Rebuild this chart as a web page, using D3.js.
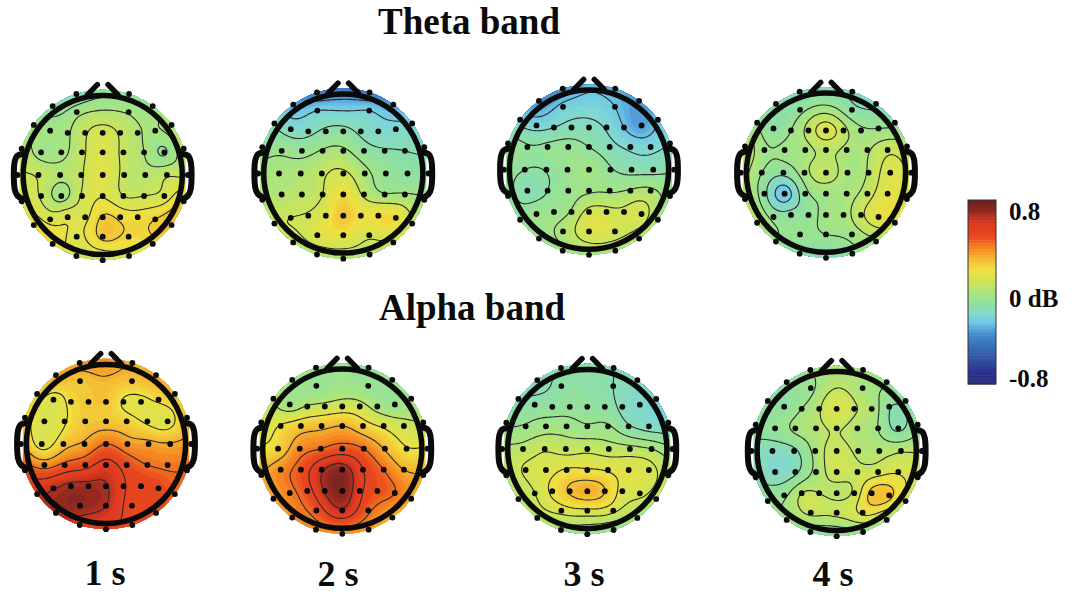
<!DOCTYPE html>
<html>
<head>
<meta charset="utf-8">
<script src="https://cdn.jsdelivr.net/npm/d3@7"></script>
<style>
  html, body { margin: 0; background: white; }
  svg { display: block; }
  text { font-family: "Liberation Serif", serif; font-weight: bold; fill: #0a0a0a; }
</style>
</head>
<body>
<svg id="chart" width="1075" height="594"></svg>
<script>
// electrode cap, head radius = 1. Outer ring every 18 degrees clockwise from the nose
const RING_ANGLES = d3.range(0, 360, 18)
const RING_RADIUS = 1.07
const ROW_Y = [-0.79, -0.53, -0.285, 0, 0.264, 0.53, 0.775]
const ROW_X = [
    [-0.326, 0.326],
    [-0.66, -0.44, -0.22, 0, 0.22, 0.44, 0.66],
    [-0.774, -0.52, -0.26, 0, 0.26, 0.52, 0.774],
    [-0.807, -0.535, -0.27, 0, 0.27, 0.535, 0.807],
    [-0.774, -0.52, -0.26, 0, 0.26, 0.52, 0.774],
    [-0.66, -0.44, -0.22, 0, 0.22, 0.44, 0.66],
    [-0.326, 0, 0.326]
]

// dB per electrode: 20 ring values, then the rows front to back
const theta1s = [
    -.06, -.05, 0, .1, .12, .13, .32, .36, .28, .2, .15, .17, .27, .28, .2, .15, .1, .03, -.08, -.1,
    .03, .05,
    .03, .05, .13, .17, .13, .07, .05,
    .03, .04, .12, .2, .12, .06, -.03,
    .13, .08, .13, .205, .12, .09, .13,
    .13, .03, .15, .215, .14, .14, .17,
    .19, .20, .2, .31, .28, .26, .3,
    .2, .32, .28
]
const theta2s = [
    -.42, -.42, -.32, -.2, -.12, -.05, .03, .12, .12, .1, .08, .08, .1, .13, .08, .04, -.02, -.12, -.3, -.42,
    -.21, -.21,
    -.15, -.13, -.08, -.07, -.12, -.16, -.17,
    0, -.02, .03, .04, -.05, -.09, -.1,
    .06, .07, .12, .16, .05, -.02, -.07,
    .08, .1, .14, .27, .12, .03, .03,
    .14, .15, .22, .33, .25, .27, .27,
    .2, .24, .16
]
const theta3s = [
    -.28, -.3, -.33, -.25, -.15, -.07, 0, .05, .08, .07, .04, .02, 0, -.03, -.03, -.02, -.02, -.2, -.35, -.35,
    -.22, -.25,
    -.19, -.15, -.12, -.12, -.16, -.25, -.33,
    -.05, -.04, -.02, -.06, -.12, -.17, -.18,
    -.06, -.055, -.01, .03, -.05, -.09, -.09,
    -.11, -.06, 0, .03, .03, .05, .06,
    0, 0, .05, .16, .16, .15, .17,
    .07, .2, .17
]
const theta4s = [
    -.12, -.12, -.12, -.03, .1, .14, .2, .18, .06, -.03, -.12, -.07, 0, .1, .12, .12, .14, 0, -.1, -.12,
    -.03, -.07,
    -.07, 0, .11, .2, .11, .02, 0,
    .02, .02, .05, .1, .06, .07, .14,
    0, -.07, .05, .12, .05, .09, .2,
    -.07, -.25, -.03, .03, .05, .12, .22,
    -.03, -.06, -.04, .03, .05, .14, .22,
    -.02, 0, .03
]
const alpha1s = [
    .45, .38, .4, .35, .36, .42, .5, .52, .58, .6, .62, .68, .78, .72, .58, .42, .3, .32, .4, .42,
    .33, .33,
    .2, .28, .32, .33, .24, .22, .27,
    .18, .24, .32, .33, .3, .23, .2,
    .2, .33, .4, .5, .43, .41, .39,
    .45, .53, .58, .66, .57, .5, .48,
    .73, .77, .77, .75, .63, .6, .58,
    .8, .74, .58
]
const alpha2s = [
    0, -.02, .02, .03, .1, .25, .38, .4, .38, .42, .42, .45, .45, .4, .38, .25, .15, .1, .05, .02,
    -.02, -.02,
    .03, .11, .14, .17, .15, .05, 0,
    .25, .32, .35, .38, .3, .22, .15,
    .3, .45, .5, .55, .5, .37, .25,
    .45, .55, .72, .8, .62, .5, .38,
    .47, .57, .75, .83, .65, .55, .5,
    .55, .72, .52
]
const alpha3s = [
    -.08, -.1, -.15, -.18, -.17, 0, .1, .1, .05, 0, 0, .04, .1, .08, .1, .08, -.03, -.1, -.15, -.08,
    -.07, -.1,
    -.06, -.05, -.04, -.05, -.06, -.12, -.16,
    0, .03, .03, 0, 0, -.09, -.14,
    .1, .14, .12, .13, .11, .1, .07,
    .16, .19, .24, .24, .22, .2, .18,
    .15, .25, .34, .38, .33, .2, .17,
    .18, .21, .17
]
const alpha4s = [
    .06, .06, .03, -.05, 0, .1, .15, .15, .06, 0, -.08, -.05, 0, 0, -.1, -.1, -.05, -.03, -.04, .02,
    0, .05,
    -.06, .02, .1, .2, .12, .08, -.07,
    -.03, .04, .08, .12, .07, .02, -.1,
    -.13, -.1, .05, .15, .09, .08, .1,
    -.15, -.1, .05, .15, .13, .16, .19,
    0, .11, .11, .09, .13, .33, .33,
    .13, .13, .22
]

const contourLevels = [
    [-.02, .06, .14, .22, .30],
    [-.32, -.21, -.1, .02, .14],
    [-.25, -.15, -.06, .04, .13],
    [-.2, -.1, 0, .08, .16],
    [.25, .38, .5, .62, .74],
    [.1, .24, .38, .5, .62, .74],
    [-.1, -.01, .07, .15, .23, .33],
    [-.08, .02, .11, .2, .3]
]
const panelValues = [theta1s, theta2s, theta3s, theta4s, alpha1s, alpha2s, alpha3s, alpha4s]

const titles = ["Theta band", "Alpha band"]
const timeLabels = ["1 s", "2 s", "3 s", "4 s"]
const colorbarTicks = [0.8, 0, -0.8]
const colorbarTickLabels = ["0.8", "0 dB", "-0.8"]

const STOP_VALUES = [-.88, -.75, -.62, -.48, -.35, -.25, -.17, -.06, .05, .14, .26, .38, .47, .56, .68, .8, .9]
const STOP_COLORS = ["#2a2a6e", "#2a3090", "#3050a0", "#3870b8", "#4890d0", "#70c8e8", "#80d8d0", "#90e0a0", "#a8e480",
    "#cce458", "#f0e040", "#f5b030", "#f58020", "#e8481f", "#e03a20", "#8f2820", "#6b1f1f"]

const HEAD_R = 79.6
const GRID_N = 90
// x, y of the head centres, reference layout
const PANEL_CENTERS = [[102.7, 175], [343.3, 173.5], [589, 169.7], [826, 172.7], [106, 444], [342.3, 448.7], [587.3, 449], [836.7, 451]]

const svg = d3.select("#chart")
const color = d3.scaleLinear().domain(STOP_VALUES).range(STOP_COLORS).clamp(true)
const headScale = d3.scaleLinear().domain([0, 1]).range([0, HEAD_R])
const gridScale = d3.scaleLinear().domain([0, GRID_N - 1]).range([-1.12, 1.12])

// electrode positions in head units
const electrodes = []
RING_ANGLES.forEach(a => {
    const t = a * Math.PI / 180
    electrodes.push({x: RING_RADIUS * Math.sin(t), y: -RING_RADIUS * Math.cos(t), hidden: a === 0})
})
ROW_X.forEach((row, i) => row.forEach(x => electrodes.push({x: x, y: ROW_Y[i] * (Math.abs(x) > 0.6 && (i === 1 || i === 5) ? 1.05 : 1)})))

// multiquadric kernel, stiff biharmonic one overshot badly at the rim
function kernel(r) {
    return Math.sqrt(r * r + 0.0225)
}

function solve(A, b) {
    const n = b.length
    const M = A.map((row, i) => [...row, b[i]])
    for(let c = 0; c < n; c++) {
        let p = c
        for(let r = c + 1; r < n; r++) if(Math.abs(M[r][c]) > Math.abs(M[p][c])) p = r
        ;[M[c], M[p]] = [M[p], M[c]]
        for(let r = c + 1; r < n; r++) {
            const f = M[r][c] / M[c][c]
            for(let k = c; k <= n; k++) M[r][k] -= f * M[c][k]
        }
    }
    const out = new Array(n)
    for(let r = n - 1; r >= 0; r--) {
        let s = M[r][n]
        for(let k = r + 1; k < n; k++) s -= M[r][k] * out[k]
        out[r] = s / M[r][r]
    }
    return out
}

// smooth surface through the electrode values, with a constant term
function surface(values) {
    const n = electrodes.length
    const A = electrodes.map(a => [...electrodes.map(b => kernel(Math.hypot(a.x - b.x, a.y - b.y))), 1])
    A.push([...electrodes.map(() => 1), 0])
    const w = solve(A, [...values, 0])
    const grid = new Float64Array(GRID_N * GRID_N)
    for(let j = 0; j < GRID_N; j++) {
        for(let i = 0; i < GRID_N; i++) {
            const x = gridScale(i), y = gridScale(j)
            grid[j * GRID_N + i] = w[n] + d3.sum(electrodes, (e, k) => w[k] * kernel(Math.hypot(x - e.x, y - e.y)))
        }
    }
    return grid
}

const gridPath = d3.geoPath(d3.geoTransform({
    point(x, y) {
        this.stream.point(headScale(gridScale(x - 0.5)), headScale(gridScale(y - 0.5)))
    }
}))

const defs = svg.append("defs")
defs.append("clipPath").attr("id", "discClip").append("circle").attr("r", headScale(1.07))
defs.append("clipPath").attr("id", "headClip").append("circle").attr("r", headScale(1))

const earLine = d3.line().curve(d3.curveCatmullRom.alpha(0.5))
    .x(d => headScale(d[0])).y(d => headScale(d[1]))
const EAR = [[-1, -0.265], [-1.07, -0.245], [-1.105, -0.17], [-1.105, 0.18], [-1.07, 0.26], [-1, 0.305]]
const EAR_GAP = [[-1.105, -0.2], [-1.045, -0.2], [-1.045, 0.22], [-1.105, 0.22]]
const NOSE = [[-0.19, -1.01], [-0.067, -1.135]]

function drawHead(values, levels, center) {
    const g = svg.append("g").attr("transform", `translate(${center[0]}, ${center[1]})`)
    const grid = surface(values)
    const bands = d3.range(-0.9, 0.9, 0.028)
    const fills = d3.contours().size([GRID_N, GRID_N]).thresholds(bands)(grid)

    const disc = g.append("g").attr("clip-path", "url(#discClip)")
    disc.append("circle").attr("r", headScale(1.07)).attr("fill", color(d3.min(grid)))
    disc.selectAll("path").data(fills).join("path")
        .attr("d", gridPath)
        .attr("fill", d => color(d.value + 0.014))

    g.append("g").attr("clip-path", "url(#headClip)")
        .selectAll("path").data(d3.contours().size([GRID_N, GRID_N]).thresholds(levels)(grid)).join("path")
        .attr("d", gridPath)
        .attr("fill", "none")
        .attr("stroke", "#2a2a2a")
        .attr("stroke-width", 1.1)

    // ears and nose
    ;[1, -1].forEach(side => {
        const ear = EAR.map(p => [p[0] * side, p[1]])
        g.append("path")
            .attr("d", d3.line()(EAR_GAP.map(p => [headScale(p[0] * side), headScale(p[1])])))
            .attr("fill", "white")
        g.append("path")
            .attr("d", earLine(ear))
            .attr("fill", "none")
            .attr("stroke", "#0a0a0a")
            .attr("stroke-width", 6)
            .attr("stroke-linecap", "round")
        g.append("path")
            .attr("d", d3.line()(NOSE.map(p => [headScale(p[0] * side), headScale(p[1])])))
            .attr("stroke", "#0a0a0a")
            .attr("stroke-width", 5.5)
            .attr("stroke-linecap", "round")
    })

    g.append("circle")
        .attr("r", HEAD_R)
        .attr("fill", "none")
        .attr("stroke", "#0a0a0a")
        .attr("stroke-width", 5.5)

    g.selectAll(".electrode").data(electrodes.filter(e => !e.hidden)).join("circle")
        .attr("class", "electrode")
        .attr("cx", d => headScale(d.x))
        .attr("cy", d => headScale(d.y))
        .attr("r", 2.9)
        .attr("fill", "#0a0a0a")
}

panelValues.forEach((values, i) => drawHead(values, contourLevels[i], PANEL_CENTERS[i]))

// colour bar
const barScale = d3.scaleLinear().domain([-0.8, 0, 0.8]).range([378, 298, 211])
const BAR_X = 968, BAR_W = 28, BAR_TOP = 200, BAR_BOTTOM = 384
const barBands = d3.range(64)
const bandH = (BAR_BOTTOM - BAR_TOP) / 64
svg.append("g").selectAll("rect").data(barBands).join("rect")
    .attr("x", BAR_X)
    .attr("y", d => BAR_TOP + d * bandH)
    .attr("width", BAR_W)
    .attr("height", bandH + 0.5)
    .attr("fill", d => color(barScale.invert(BAR_TOP + (d + 0.5) * bandH)))
svg.append("rect")
    .attr("x", BAR_X).attr("y", BAR_TOP)
    .attr("width", BAR_W).attr("height", BAR_BOTTOM - BAR_TOP)
    .attr("fill", "none").attr("stroke", "#333").attr("stroke-width", 1)
svg.append("g").selectAll("text").data(colorbarTicks).join("text")
    .attr("x", 1009)
    .attr("y", d => barScale(d))
    .attr("dy", "0.35em")
    .attr("font-size", 25)
    .text((d, i) => colorbarTickLabels[i])

// titles
const TITLE_POS = [[469, 34], [472, 320]]
svg.append("g").selectAll("text").data(titles).join("text")
    .attr("x", (d, i) => TITLE_POS[i][0])
    .attr("y", (d, i) => TITLE_POS[i][1])
    .attr("text-anchor", "middle")
    .attr("font-size", 37)
    .text(d => d)

const TIME_POS = [[105, 585], [338, 586], [584, 586], [833, 586]]
svg.append("g").selectAll("text").data(timeLabels).join("text")
    .attr("x", (d, i) => TIME_POS[i][0])
    .attr("y", (d, i) => TIME_POS[i][1])
    .attr("text-anchor", "middle")
    .attr("font-size", 36)
    .text(d => d)
</script>
</body>
</html>
